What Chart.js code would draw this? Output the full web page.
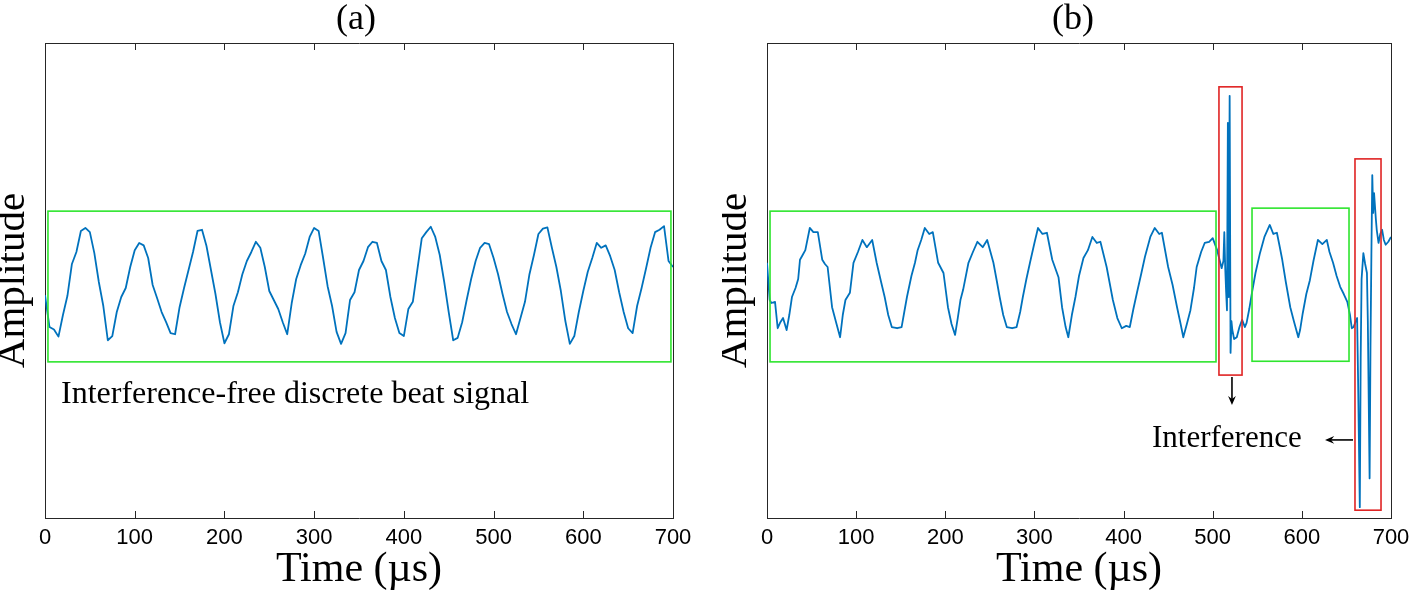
<!DOCTYPE html>
<html>
<head>
<meta charset="utf-8">
<script src="https://cdn.jsdelivr.net/npm/chart.js@4.4.0/dist/chart.umd.min.js"></script>
<style>
    html, body { margin: 0; padding: 0; background: #fff; }
    #wrap { position: relative; width: 1424px; height: 596px; }
    #chartA { position: absolute; left: 0; top: 0; }
    #chartB { position: absolute; left: 722px; top: 0; }
</style>
</head>
<body>
<div id="wrap">
    <canvas id="chartA" width="712" height="596"></canvas>
    <canvas id="chartB" width="702" height="596"></canvas>
</div>
<script>
// Time axis (µs)
const timeMin = 0;
const timeMax = 700;
const timeStep = 100;

// Panel (a): interference-free beat signal, one sample every 5 µs
const sampleStepA = 5;
const ampA = [
    -0.17, -0.70, -0.74, -0.86, -0.50, -0.18, 0.35, 0.55, 0.90, 0.95,
    0.88, 0.53, 0.05, -0.35, -0.92, -0.85, -0.45, -0.20, -0.05, 0.30,
    0.58, 0.70, 0.66, 0.45, 0.00, -0.22, -0.45, -0.62, -0.80, -0.82,
    -0.37, -0.05, 0.25, 0.55, 0.90, 0.92, 0.65, 0.25, -0.15, -0.62,
    -0.97, -0.82, -0.35, -0.12, 0.18, 0.40, 0.55, 0.72, 0.62, 0.30,
    -0.10, -0.25, -0.40, -0.62, -0.82, -0.30, 0.10, 0.33, 0.52, 0.80,
    0.95, 0.90, 0.45, -0.02, -0.35, -0.78, -0.98, -0.80, -0.25, -0.12,
    0.25, 0.40, 0.63, 0.72, 0.70, 0.40, 0.25, -0.20, -0.55, -0.80,
    -0.85, -0.40, -0.28, 0.25, 0.78, 0.88, 0.97, 0.80, 0.50, 0.05,
    -0.45, -0.92, -0.88, -0.62, -0.25, 0.10, 0.40, 0.62, 0.70, 0.68,
    0.45, 0.18, -0.15, -0.45, -0.65, -0.82, -0.55, -0.28, 0.18, 0.50,
    0.85, 0.94, 0.96, 0.62, 0.30, -0.10, -0.60, -0.98, -0.85, -0.45,
    -0.10, 0.22, 0.45, 0.70, 0.62, 0.66, 0.48, 0.25, -0.12, -0.45,
    -0.72, -0.80, -0.35, -0.05, 0.28, 0.62, 0.88, 0.92, 0.98, 0.40,
    0.30
];

// Panel (b): beat signal with two interference bursts (denser around the bursts)
const timeB = [
    0, 3, 5, 9, 12, 15, 18, 22, 25, 28, 32, 35, 37, 40, 43, 48, 52, 57, 62, 65,
    68, 73, 78, 82, 85, 88, 93, 97, 102, 107, 112, 118, 123, 128, 132, 136, 140, 146, 151, 154,
    157, 162, 166, 169, 173, 177, 182, 186, 192, 198, 203, 207, 211, 214, 217, 220, 226, 231, 236, 242,
    247, 254, 258, 261, 265, 269, 275, 280, 284, 287, 291, 295, 300, 304, 309, 314, 320, 327, 331, 335,
    338, 342, 346, 350, 355, 360, 365, 370, 374, 381, 388, 393, 398, 403, 407, 411, 415, 420, 424, 430,
    435, 440, 443, 450, 455, 460, 464, 467, 471, 475, 479, 482, 487, 491, 496, 500, 505, 508, 510, 512,
    513, 514, 515, 516, 517, 518, 519, 520, 521, 522, 524, 527, 530, 533, 536, 538, 541, 544, 548, 553,
    558, 561, 564, 568, 572, 575, 578, 582, 587, 591, 596, 598, 601, 605, 609, 613, 618, 623, 628, 631,
    635, 639, 643, 647, 651, 654, 656, 658, 660, 662, 663, 665, 666, 667, 669, 671, 673, 674, 676, 677,
    678, 679, 680, 681, 683, 684, 686, 688, 690, 692, 694, 697, 700
];
const ampB = [
    0.37, -0.25, -0.30, -0.28, -0.72, -0.62, -0.55, -0.75, -0.50, -0.20, -0.05, 0.10, 0.42, 0.50, 0.58, 0.95, 0.88, 0.88, 0.42, 0.35,
    0.30, -0.37, -0.65, -0.87, -0.50, -0.25, -0.13, 0.37, 0.55, 0.75, 0.63, 0.75, 0.37, 0.05, -0.20, -0.50, -0.70, -0.72, -0.70, -0.45,
    -0.20, 0.15, 0.37, 0.58, 0.75, 0.95, 0.85, 0.88, 0.37, 0.20, -0.37, -0.65, -0.83, -0.55, -0.25, -0.08, 0.37, 0.55, 0.72, 0.63,
    0.75, 0.37, 0.05, -0.20, -0.50, -0.70, -0.72, -0.70, -0.45, -0.20, 0.10, 0.37, 0.70, 0.95, 0.85, 0.87, 0.42, 0.13, -0.37, -0.70,
    -0.87, -0.50, -0.20, 0.15, 0.45, 0.58, 0.80, 0.70, 0.72, 0.30, -0.25, -0.55, -0.72, -0.68, -0.70, -0.40, -0.13, 0.20, 0.47, 0.80,
    0.95, 0.85, 0.87, 0.30, 0.00, -0.37, -0.65, -0.87, -0.65, -0.42, -0.05, 0.30, 0.55, 0.70, 0.72, 0.78, 0.58, 0.40, 0.28, 0.40,
    0.88, 0.30, -0.10, -0.42, 2.70, -0.20, 3.15, -1.13, -0.60, -0.75, -0.90, -0.87, -0.70, -0.58, -0.70, -0.63, -0.40, -0.13, 0.20, 0.53,
    0.80, 0.90, 1.00, 0.85, 0.87, 0.65, 0.42, 0.05, -0.37, -0.60, -0.87, -0.75, -0.47, -0.15, 0.08, 0.40, 0.75, 0.68, 0.75, 0.55,
    0.37, 0.15, -0.03, -0.15, -0.28, -0.50, -0.72, -0.70, -0.62, -0.55, -1.50, -3.70, -1.20, 0.10, 0.53, 0.35, 0.20, -0.60, -3.22, -1.00,
    0.50, 1.83, 1.20, 1.53, 1.10, 0.92, 0.70, 0.85, 0.92, 0.75, 0.67, 0.72, 0.80
];

// Amplitude axis range (no tick labels in the original)
const ampMin = -3.88;
const ampMax = 4.03;

// Annotation regions in data units: [tStart, tEnd, ampLow, ampHigh]
const cleanBoxesA = [[3.3, 697.7, -1.28, 1.23]];
const cleanBoxesB = [[3.4, 503.7, -1.28, 1.23], [544.1, 652.9, -1.27, 1.28]];
const interferenceBoxesB = [[507, 532.9, -1.5, 3.3], [659.6, 688.8, -3.75, 2.1]];
// Arrows: [tFrom, ampFrom, tTo, ampTo]
const arrowsB = [[521.6, -1.53, 521.6, -2.0], [657.4, -2.58, 626, -2.58]];

const lineBlue = '#0072bd';
const axisGray = '#262626';
const boxGreen = '#2ee52e';
const boxRed = '#e02424';

const notesPlugin = {
    id: 'notes',
    afterDatasetsDraw(chart, args, opts) {
        const { ctx, chartArea, scales: { x, y } } = chart;
        ctx.save();

        // inward tick marks on top and bottom edges
        ctx.strokeStyle = axisGray;
        ctx.lineWidth = 1;
        x.ticks.forEach(tk => {
            const px = Math.round(x.getPixelForValue(tk.value)) + 0.5;
            ctx.beginPath();
            ctx.moveTo(px, chartArea.bottom);
            ctx.lineTo(px, chartArea.bottom - 7);
            ctx.moveTo(px, chartArea.top);
            ctx.lineTo(px, chartArea.top + 7);
            ctx.stroke();
        });

        (opts.boxes || []).forEach(b => {
            ctx.strokeStyle = b.color;
            ctx.lineWidth = 1.6;
            const [t0, t1, a0, a1] = b.rect;
            const px0 = x.getPixelForValue(t0), px1 = x.getPixelForValue(t1);
            const py0 = y.getPixelForValue(a1), py1 = y.getPixelForValue(a0);
            ctx.strokeRect(px0, py0, px1 - px0, py1 - py0);
        });
        (opts.arrows || []).forEach(a => {
            const x0 = x.getPixelForValue(a[0]), y0 = y.getPixelForValue(a[1]);
            const x1 = x.getPixelForValue(a[2]), y1 = y.getPixelForValue(a[3]);
            const ang = Math.atan2(y1 - y0, x1 - x0);
            const head = 10;
            ctx.strokeStyle = '#000';
            ctx.fillStyle = '#000';
            ctx.lineWidth = 1.6;
            ctx.beginPath();
            ctx.moveTo(x0, y0);
            ctx.lineTo(x1 - Math.cos(ang) * 4, y1 - Math.sin(ang) * 4);
            ctx.stroke();
            ctx.beginPath();
            ctx.moveTo(x1, y1);
            ctx.lineTo(x1 - head * Math.cos(ang - 0.4), y1 - head * Math.sin(ang - 0.4));
            ctx.lineTo(x1 - head * 0.6 * Math.cos(ang), y1 - head * 0.6 * Math.sin(ang));
            ctx.lineTo(x1 - head * Math.cos(ang + 0.4), y1 - head * Math.sin(ang + 0.4));
            ctx.closePath();
            ctx.fill();
        });
        (opts.labels || []).forEach(l => {
            ctx.fillStyle = '#000';
            ctx.font = l.size + 'px "Liberation Serif", serif';
            ctx.textAlign = 'left';
            ctx.textBaseline = 'alphabetic';
            ctx.fillText(l.text, x.getPixelForValue(l.t), y.getPixelForValue(l.amp));
        });
        ctx.restore();
    }
};

function buildOptions(panelTitle, rightGap, notes) {
    return {
        responsive: false,
        animation: false,
        events: [],
        layout: { padding: 0 },
        plugins: {
            legend: { display: false },
            tooltip: { enabled: false },
            title: {
                display: true,
                text: panelTitle,
                color: '#000',
                font: { family: '"Liberation Serif", serif', size: 36, weight: 'normal', lineHeight: 1 },
                padding: { top: 2, bottom: 5 }
            },
            notes: notes
        },
        scales: {
            x: {
                type: 'linear',
                position: 'bottom',
                min: timeMin,
                max: timeMax,
                afterFit(s) { s.height = 78; },
                ticks: {
                    stepSize: timeStep,
                    color: '#000',
                    padding: 7,
                    maxRotation: 0,
                    font: { family: '"Liberation Sans", Arial, sans-serif', size: 22 }
                },
                grid: { drawOnChartArea: false, drawTicks: false },
                border: { display: true, color: axisGray, width: 1 },
                title: {
                    display: true,
                    text: 'Time (µs)',
                    color: '#000',
                    font: { family: '"Liberation Serif", serif', size: 42, lineHeight: 1.2 },
                    padding: { top: 0, bottom: 1 }
                }
            },
            xTop: {
                type: 'linear',
                position: 'top',
                min: timeMin,
                max: timeMax,
                afterFit(s) { s.height = 0; },
                ticks: { display: false, stepSize: timeStep },
                grid: { drawOnChartArea: false, drawTicks: false },
                border: { display: true, color: axisGray, width: 1 }
            },
            y: {
                type: 'linear',
                position: 'left',
                min: ampMin,
                max: ampMax,
                afterFit(s) { s.width = 45; },
                ticks: { display: false },
                grid: { display: false },
                border: { display: true, color: axisGray, width: 1 },
                title: {
                    display: true,
                    text: 'Amplitude',
                    color: '#000',
                    font: { family: '"Liberation Serif", serif', size: 41, lineHeight: 0.66 },
                    padding: 0
                }
            },
            yRight: {
                type: 'linear',
                position: 'right',
                min: ampMin,
                max: ampMax,
                afterFit(s) { s.width = rightGap; },
                ticks: { display: false },
                grid: { display: false },
                border: { display: true, color: axisGray, width: 1 }
            }
        }
    };
}

function lineDataset(points) {
    return {
        data: points,
        borderColor: lineBlue,
        borderWidth: 1.8,
        pointRadius: 0,
        tension: 0,
        borderJoinStyle: 'round',
        xAxisID: 'x',
        yAxisID: 'y'
    };
}

const pointsA = ampA.map((v, i) => ({ x: i * sampleStepA, y: v }));
const pointsB = timeB.map((t, i) => ({ x: t, y: ampB[i] }));

new Chart(document.getElementById('chartA'), {
    type: 'line',
    data: { datasets: [lineDataset(pointsA)] },
    options: buildOptions('(a)', 39, {
        boxes: cleanBoxesA.map(r => ({ rect: r, color: boxGreen })),
        labels: [{ text: 'Interference-free discrete beat signal', t: 17.8, amp: -1.97, size: 32 }]
    }),
    plugins: [notesPlugin]
});

new Chart(document.getElementById('chartB'), {
    type: 'line',
    data: { datasets: [lineDataset(pointsB)] },
    options: buildOptions('(b)', 33, {
        boxes: cleanBoxesB.map(r => ({ rect: r, color: boxGreen }))
            .concat(interferenceBoxesB.map(r => ({ rect: r, color: boxRed }))),
        arrows: arrowsB,
        labels: [{ text: 'Interference', t: 431.9, amp: -2.7, size: 31 }]
    }),
    plugins: [notesPlugin]
});
</script>
</body>
</html>
